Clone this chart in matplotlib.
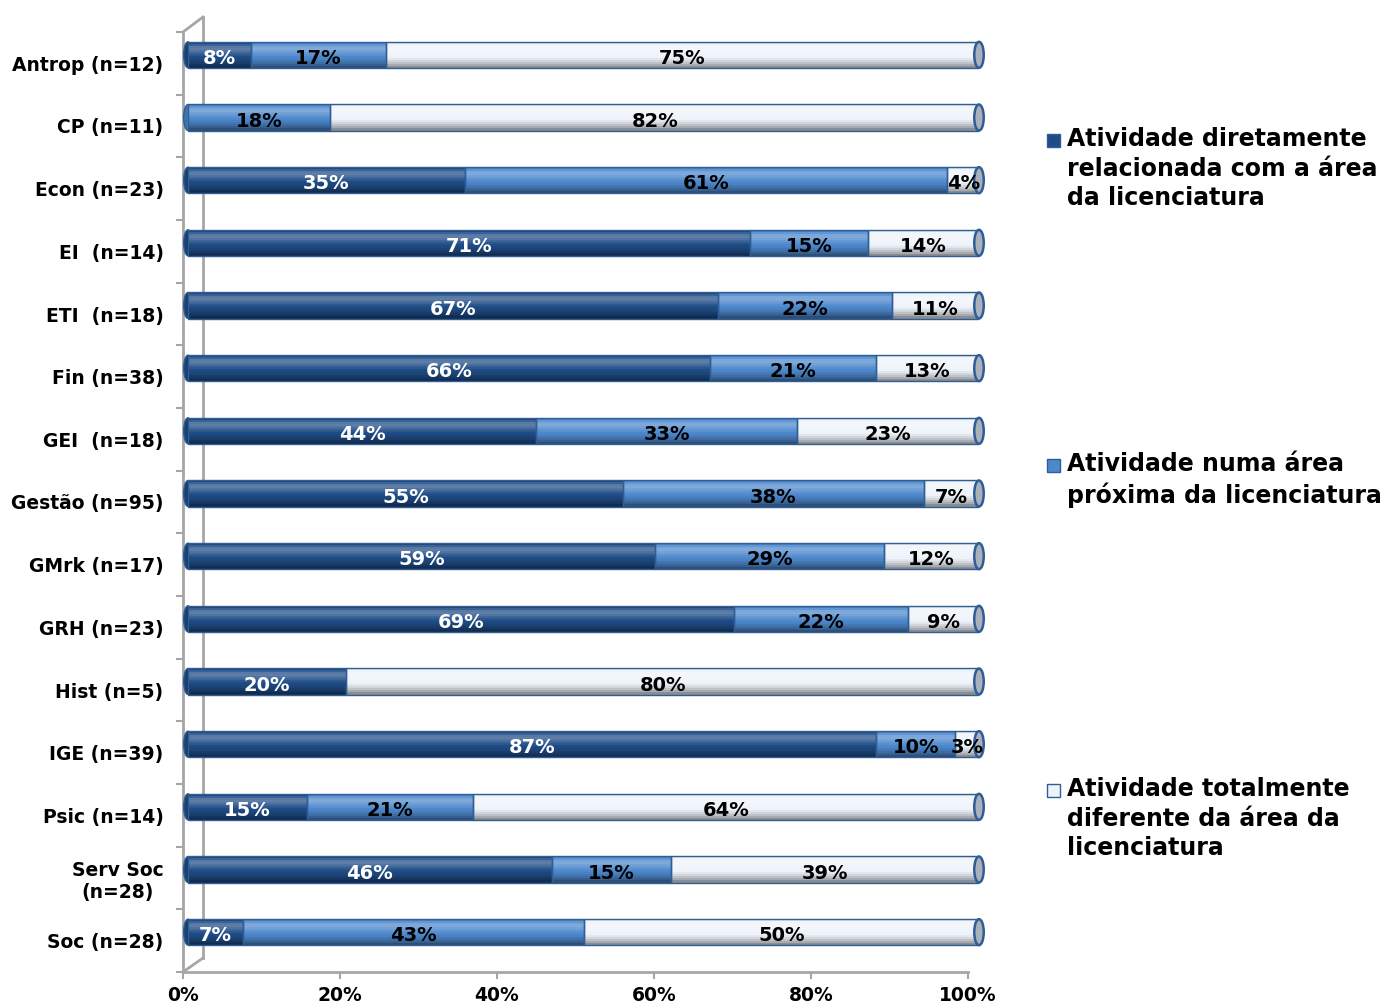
import matplotlib.pyplot as plt
import numpy as np
from matplotlib.patches import Ellipse, Rectangle
from matplotlib.lines import Line2D
from matplotlib.colors import to_rgb

# dados
cursos = ["Antrop (n=12)", "CP (n=11)", "Econ (n=23)", "EI  (n=14)", "ETI  (n=18)",
          "Fin (n=38)", "GEI  (n=18)", "Gestão (n=95)", "GMrk (n=17)", "GRH (n=23)",
          "Hist (n=5)", "IGE (n=39)", "Psic (n=14)", "Serv Soc\n(n=28)", "Soc (n=28)"]
direta = [8, 0, 35, 71, 67, 66, 44, 55, 59, 69, 20, 87, 15, 46, 7]
proxima = [17, 18, 61, 15, 22, 21, 33, 38, 29, 22, 0, 10, 21, 15, 43]
diferente = [75, 82, 4, 14, 11, 13, 23, 7, 12, 9, 80, 3, 64, 39, 50]
legendas = ["Atividade diretamente\nrelacionada com a área\nda licenciatura",
            "Atividade numa área\npróxima da licenciatura",
            "Atividade totalmente\ndiferente da área da\nlicenciatura"]
ticks_x = [0, 20, 40, 60, 80, 100]

cores = ["#1f4c86", "#4d88cc", "#eef3fa"]
cor_texto = ["white", "black", "black"]
cor_borda = "#2f5d96"
cinza = "#a6a6a6"
sombra = [-0.05, 0.12, 0.25, 0.28, 0.22, 0.14, 0.06, 0.0, -0.05, -0.12, -0.2, -0.3, -0.42]
altura = 0.415

W, H = 1384, 1005
fig = plt.figure(figsize=(W / 100, H / 100), dpi=100)
ax = fig.add_axes([183 / W, 1 - 972 / H, (968 - 183) / W, 940 / H])
axb = fig.add_axes([188 / W, 1 - 963.5 / H, (979 - 188) / W, 940 / H])

pos = np.arange(len(cursos))
for a in (ax, axb):
    a.set_xlim(0, 100)
    a.set_ylim(len(cursos) - 0.5, -0.5)
axb.axis("off")

# barras com sombreado tipo cilindro
series = [np.array(direta), np.array(proxima), np.array(diferente)]
esquerda = np.zeros(len(cursos))
primeira = [next(i for i, s in enumerate(series) if s[j] > 0) for j in range(len(cursos))]
for j in range(len(cursos)):
    c = np.array(to_rgb(cores[primeira[j]])) * 0.85
    axb.add_patch(Ellipse((0, pos[j]), 1.1, altura, facecolor=c, edgecolor=cor_borda,
                          lw=1, zorder=1, clip_on=False))
n = len(sombra)
h = altura / n
for i, vals in enumerate(series):
    rgb = np.array(to_rgb(cores[i]))
    for k, s in enumerate(sombra):
        c = rgb + (1 - rgb) * s if s > 0 else rgb * (1 + s)
        axb.barh(pos - altura / 2 + (k + 0.5) * h, vals, left=esquerda, height=h * 1.05,
                 color=np.clip(c, 0, 1), linewidth=0, zorder=2)
    m = vals > 0
    axb.barh(pos[m], vals[m], left=esquerda[m], height=altura, facecolor="none",
             edgecolor=cor_borda, lw=1, zorder=3)
    for j in np.where(m)[0]:
        axb.text(esquerda[j] + vals[j] / 2, pos[j] + 0.06, f"{vals[j]}%", ha="center",
                 va="center", fontsize=14, fontweight="bold", color=cor_texto[i],
                 zorder=5, clip_on=False)
    esquerda = esquerda + vals
for j in range(len(cursos)):
    axb.add_patch(Ellipse((esquerda[j], pos[j]), 1.2, altura, facecolor="#a9b1bd",
                          edgecolor=cor_borda, lw=1.8, zorder=4, clip_on=False))

# eixos
ax.set_xticks(ticks_x)
ax.set_xticklabels([f"{t}%" for t in ticks_x], fontsize=13.5, fontweight="bold")
ax.set_yticks(pos)
ax.set_yticklabels(cursos, fontsize=13.5, fontweight="bold", multialignment="center")
ax.set_yticks(np.arange(len(cursos) + 1) - 0.5, minor=True)
ax.tick_params(axis="y", which="major", length=0, pad=14)
ax.tick_params(axis="y", which="minor", length=5, color=cinza, width=1.5)
ax.tick_params(axis="x", length=5, color=cinza, width=1.5, pad=5)
for lado in ["top", "right"]:
    ax.spines[lado].set_visible(False)
for lado in ["left", "bottom"]:
    ax.spines[lado].set_color(cinza)
    ax.spines[lado].set_linewidth(2)
ax.patch.set_visible(False)

# parede do fundo (3D), por tras das barras
pts = [[(183, 32), (203, 17)], [(203, 17), (203, 958)], [(183, 972), (203, 958)]]
for (x0, y0), (x1, y1) in pts:
    fig.add_artist(Line2D([x0 / W, x1 / W], [1 - y0 / H, 1 - y1 / H], color=cinza, lw=2,
                          transform=fig.transFigure, zorder=-1))

# legenda
for i, (txt, y) in enumerate(zip(legendas, [140, 465, 790])):
    fig.add_artist(Rectangle((1047 / W, 1 - (y + 7) / H), 13 / W, 13 / H,
                             facecolor=cores[i], edgecolor=cor_borda, lw=1,
                             transform=fig.transFigure))
    fig.text(1067 / W, 1 - (y - 13) / H, txt, fontsize=17, fontweight="bold",
             va="top", ha="left", linespacing=1.3)

fig.savefig("out.png", dpi=100)
